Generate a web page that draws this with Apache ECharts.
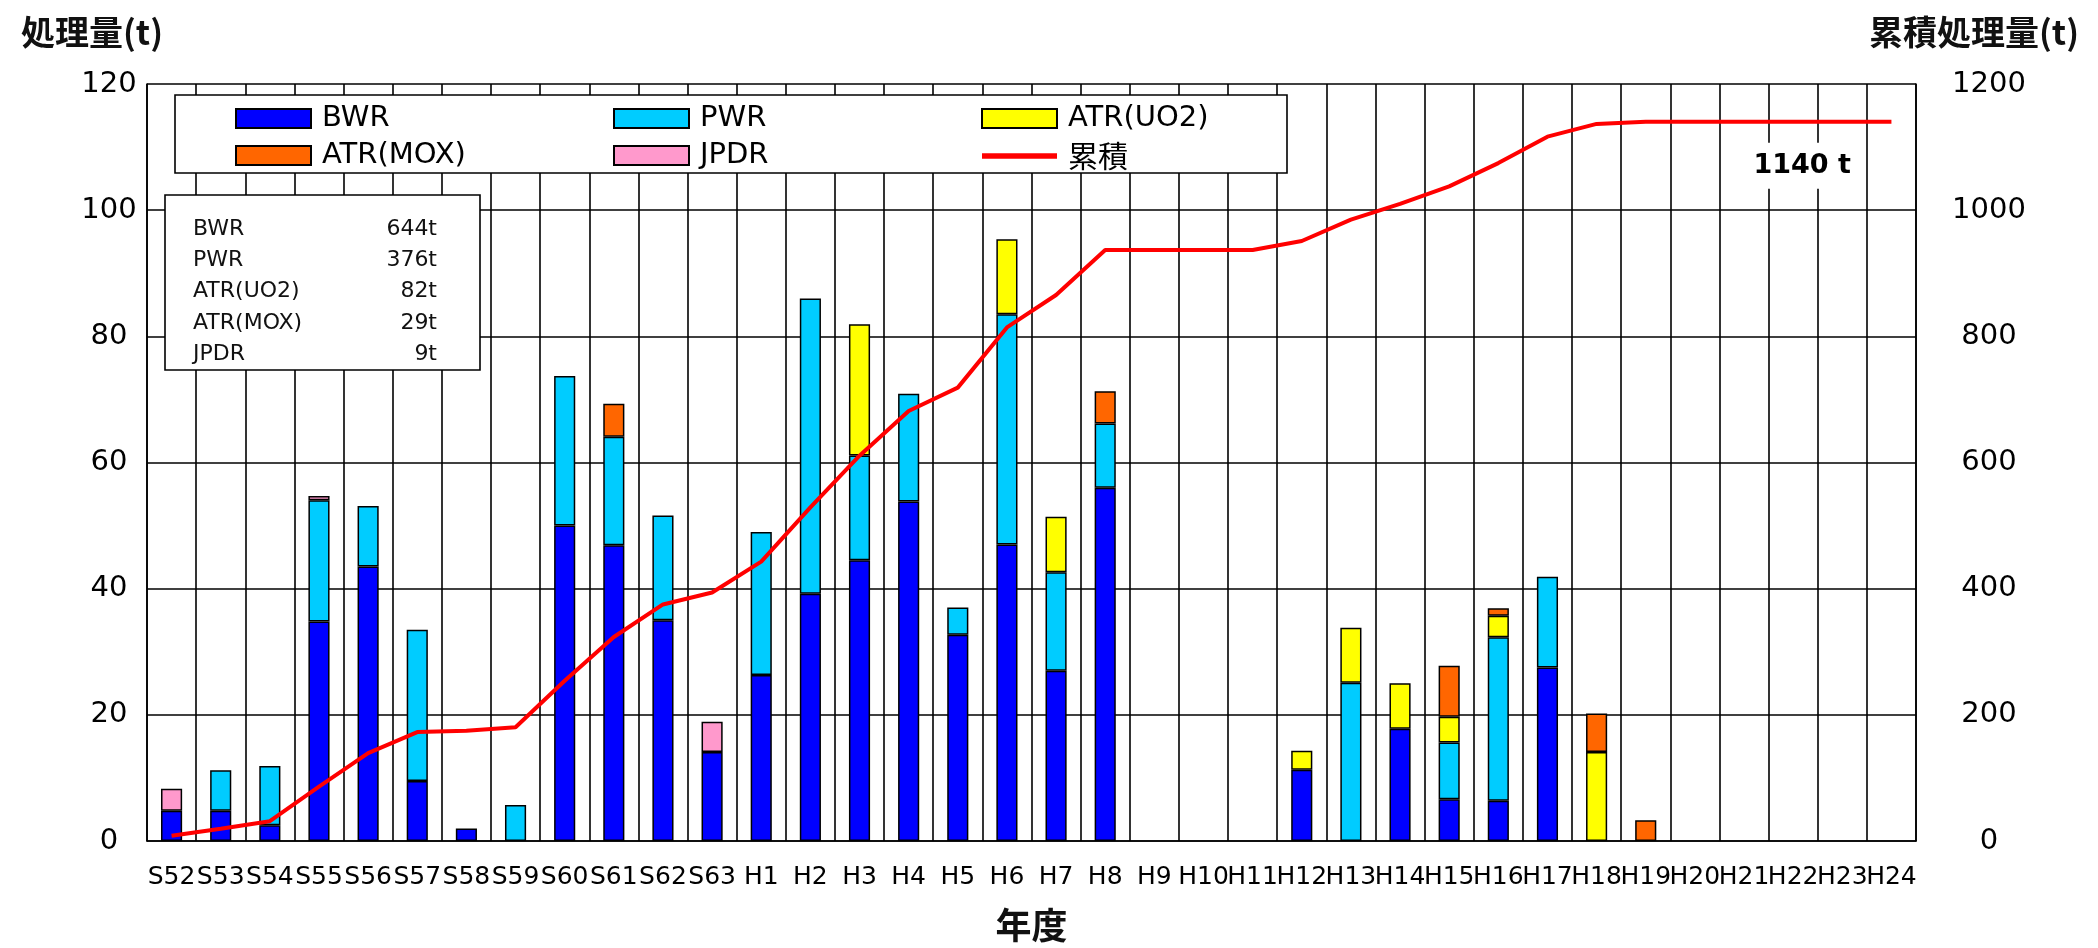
<!DOCTYPE html>
<html>
<head>
<meta charset="utf-8">
<script src="https://cdn.jsdelivr.net/npm/echarts@6/dist/echarts.min.js"></script>
<style>
  html, body { margin: 0; padding: 0; background: #fff; }
  #chart { width: 2098px; height: 948px; }
</style>
</head>
<body>
<div id="chart"></div>
<script>
// Fiscal years (Showa 52 .. Heisei 24)
const categories = ['S52','S53','S54','S55','S56','S57','S58','S59','S60','S61','S62','S63',
  'H1','H2','H3','H4','H5','H6','H7','H8','H9','H10','H11','H12','H13','H14','H15','H16',
  'H17','H18','H19','H20','H21','H22','H23','H24'];

// Annual amounts processed (t), by fuel type
const bwr  = [4.8,4.8,2.5,34.8,43.5,9.5,2.0,0,50.0,46.9,35.0,14.1,
  26.3,39.2,44.5,53.8,32.7,47.0,27.0,56.0,0,0,0,11.3,0,17.8,6.6,6.4,27.5,0,0,0,0,0,0,0];
const pwr  = [0,6.4,9.4,19.2,9.6,24.0,0,5.7,23.7,17.2,16.6,0,
  22.7,46.8,16.6,17.1,4.3,36.5,15.6,10.2,0,0,0,0,25.1,0,9.0,25.9,14.4,0,0,0,0,0,0,0];
const atrUo2 = [0,0,0,0,0,0,0,0,0,0,0,0,
  0,0,20.8,0,0,11.9,8.8,0,0,0,0,3.0,8.7,7.2,4.1,3.4,0,14.1,0,0,0,0,0,0];
const atrMox = [0,0,0,0,0,0,0,0,0,5.2,0,0,
  0,0,0,0,0,0,0,5.1,0,0,0,0,0,0,8.1,1.2,0,6.1,3.3,0,0,0,0,0];
const jpdr = [3.5,0,0,0.7,0,0,0,0,0,0,0,4.8,
  0,0,0,0,0,0,0,0,0,0,0,0,0,0,0,0,0,0,0,0,0,0,0,0];

// Cumulative amount processed (t)
const cumulative = [8.3,19.5,31.4,86.1,139.2,172.7,174.7,180.4,254.1,323.4,375.0,393.9,
  442.9,528.9,610.8,681.7,718.7,814.1,865.5,936.8,936.8,936.8,936.8,951.1,984.9,1009.9,
  1037.7,1074.6,1116.5,1136.7,1140,1140,1140,1140,1140,1140];

// Totals by fuel type (t)
const totalNames  = ['BWR','PWR','ATR(UO2)','ATR(MOX)','JPDR'];
const totalValues = [644, 376, 82, 29, 9];

const leftTicks  = { min: 0, max: 120, interval: 20 };
const rightTicks = { min: 0, max: 1200, interval: 200 };

const LATIN = '"DejaVu Sans", "Liberation Sans", sans-serif';
const CJK = '"Noto Sans CJK JP", "Noto Sans CJK SC", sans-serif';

const blank = v => (v === 0 ? '-' : v);

const barBase = {
  type: 'bar',
  stack: 'amount',
  barWidth: '43%',
  emphasis: { disabled: true }
};

const barSeries = [
  { name: 'BWR', data: bwr, color: '#0000ff' },
  { name: 'PWR', data: pwr, color: '#00ccff' },
  { name: 'ATR(UO2)', data: atrUo2, color: '#ffff00' },
  { name: 'ATR(MOX)', data: atrMox, color: '#ff6600' },
  { name: 'JPDR', data: jpdr, color: '#ff99cc' }
].map(s => Object.assign({}, barBase, {
  name: s.name,
  data: s.data.map(blank),
  itemStyle: { color: s.color, borderColor: '#000', borderWidth: 1.5 }
}));

const finalTotal = cumulative[cumulative.length - 1];

const lineSeries = {
  name: '累積',
  type: 'line',
  yAxisIndex: 1,
  data: cumulative,
  symbol: 'none',
  z: 5,
  lineStyle: { color: '#ff0000', width: 4 },
  itemStyle: { color: '#ff0000' },
  emphasis: { disabled: true },
  markPoint: {
    silent: true,
    symbol: 'rect',
    symbolSize: [110, 46],
    symbolOffset: [9, 44],
    itemStyle: { color: '#ffffff' },
    label: {
      show: true,
      position: 'inside',
      formatter: () => finalTotal + ' t',
      fontFamily: LATIN,
      fontSize: 27,
      fontWeight: 'bold',
      color: '#000'
    },
    data: [{ coord: ['H22', finalTotal] }]
  }
};

const legendCommon = {
  orient: 'vertical',
  top: 104,
  padding: 0,
  itemWidth: 75,
  itemHeight: 19,
  itemGap: 8,
  selectedMode: false,
  icon: 'rect',
  textStyle: { fontFamily: LATIN, fontSize: 29, color: '#000', padding: [0, 0, 0, 6] }
};

// Summary box text, built from the totals
const summaryRows = totalNames.flatMap((name, i) => {
  const y = 229 + i * 31.3;
  return [
    { type: 'text', z: 6, x: 193, y: y,
      style: { text: name, font: '22px ' + LATIN, fill: '#111', verticalAlign: 'middle', align: 'left' } },
    { type: 'text', z: 6, x: 437, y: y,
      style: { text: totalValues[i] + 't', font: '22px ' + LATIN, fill: '#111', verticalAlign: 'middle', align: 'right' } }
  ];
});

const chart = echarts.init(document.getElementById('chart'), null, { renderer: 'canvas' });

chart.setOption({
  animation: false,
  backgroundColor: '#ffffff',
  title: [
    { text: '処理量(t)', left: 16, top: 10,
      textStyle: { fontFamily: CJK, fontSize: 34, fontWeight: 'bold', color: '#111' } },
    { text: '累積処理量(t)', right: 14, top: 10,
      textStyle: { fontFamily: CJK, fontSize: 34, fontWeight: 'bold', color: '#111' } }
  ],
  grid: { left: 147, right: 182, top: 84, bottom: 106, containLabel: false },
  legend: [
    Object.assign({}, legendCommon, { left: 235, data: ['BWR', 'ATR(MOX)'] }),
    Object.assign({}, legendCommon, { left: 613, data: ['PWR', 'JPDR'] }),
    Object.assign({}, legendCommon, { left: 981, data: ['ATR(UO2)', {
      name: '累積',
      icon: 'path://M0,0L150,0L150,11L0,11Z',
      textStyle: { fontFamily: CJK, fontSize: 30 }
    }] })
  ],
  xAxis: {
    type: 'category',
    data: categories,
    boundaryGap: true,
    name: '年度',
    nameLocation: 'middle',
    nameGap: 66,
    nameTextStyle: { fontFamily: CJK, fontSize: 36, fontWeight: 'bold', color: '#111' },
    axisLine: { lineStyle: { color: '#000', width: 1.6 } },
    axisTick: { show: false },
    axisLabel: { interval: 0, margin: 24, fontFamily: LATIN, fontSize: 25, color: '#000' },
    splitLine: { show: true, interval: 0, lineStyle: { color: '#000', width: 1.6 } }
  },
  yAxis: [
    {
      type: 'value',
      min: leftTicks.min, max: leftTicks.max, interval: leftTicks.interval,
      axisLine: { show: true, lineStyle: { color: '#000', width: 1.6 } },
      axisTick: { show: false },
      axisLabel: { margin: 38, align: 'center', fontFamily: LATIN, fontSize: 29, color: '#000',
        formatter: v => String(v) },
      splitLine: { show: true, lineStyle: { color: '#000', width: 1.6 } }
    },
    {
      type: 'value',
      min: rightTicks.min, max: rightTicks.max, interval: rightTicks.interval,
      position: 'right',
      axisLine: { show: true, lineStyle: { color: '#000', width: 1.6 } },
      axisTick: { show: false },
      axisLabel: { margin: 73, align: 'center', fontFamily: LATIN, fontSize: 29, color: '#000',
        formatter: v => String(v) },
      splitLine: { show: false }
    }
  ],
  graphic: [
    { type: 'rect', z: 3, shape: { x: 175, y: 95, width: 1112, height: 78 },
      style: { fill: '#ffffff', stroke: '#000', lineWidth: 1.6 } },
    { type: 'rect', z: 3, shape: { x: 165, y: 195, width: 315, height: 175 },
      style: { fill: '#ffffff', stroke: '#000', lineWidth: 1.6 } }
  ].concat(summaryRows),
  series: barSeries.concat([lineSeries])
});
</script>
</body>
</html>
